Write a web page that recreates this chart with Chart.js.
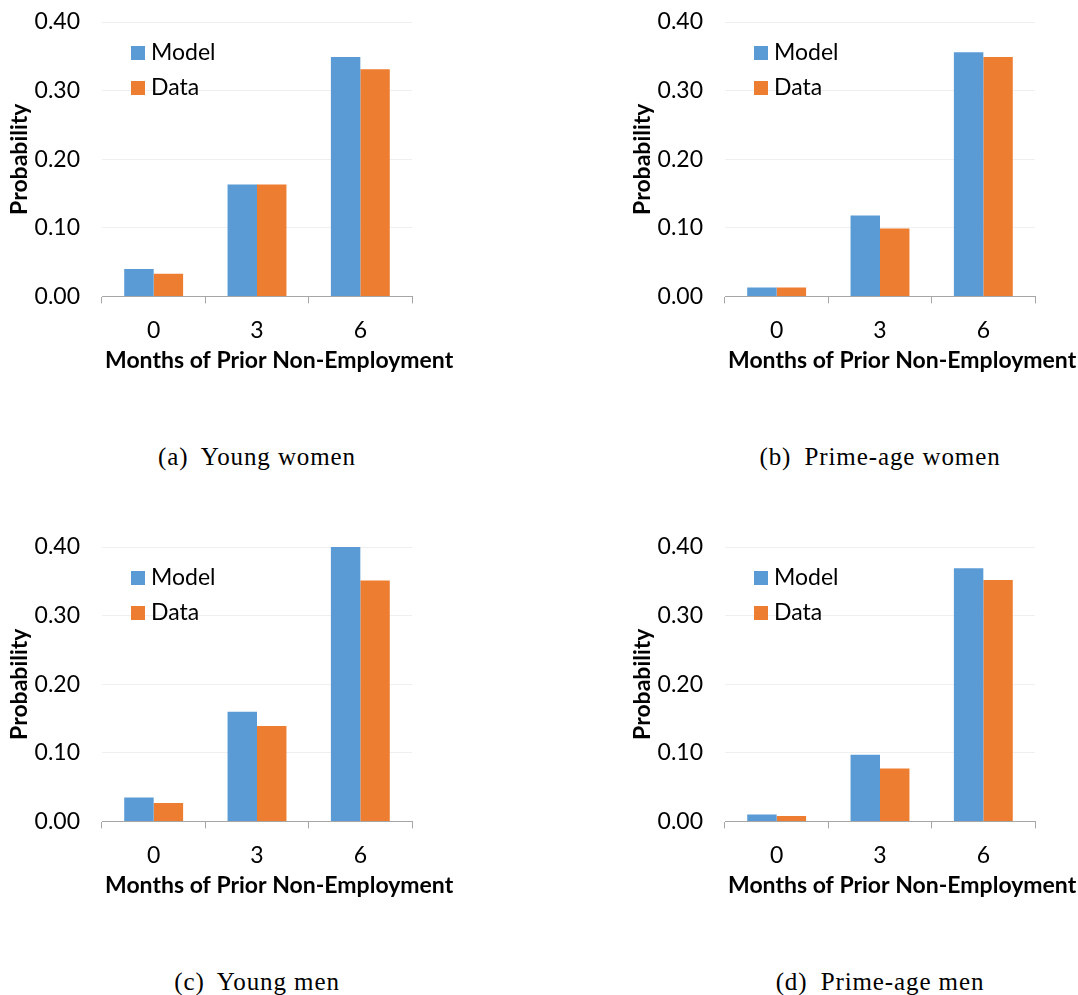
<!DOCTYPE html>
<html>
<head>
<meta charset="utf-8">
<script src="https://cdn.jsdelivr.net/npm/chart.js@4"></script>
<style>
  body { margin: 0; background: #fff; width: 1078px; height: 995px; position: relative; overflow: hidden; }
  .panel { position: absolute; width: 470px; height: 376px; }
  .caption { position: absolute; font-family: "Liberation Serif", serif; font-size: 25px; letter-spacing: 0.9px; color: #000; text-align: center; width: 470px; }
  .caption .lab { margin-right: 6px; }
</style>
</head>
<body>
<div class="panel" style="left:0;top:0"><canvas id="c0" width="470" height="376"></canvas></div>
<div class="panel" style="left:623px;top:0"><canvas id="c1" width="470" height="376"></canvas></div>
<div class="panel" style="left:0;top:525px"><canvas id="c2" width="470" height="376"></canvas></div>
<div class="panel" style="left:623px;top:525px"><canvas id="c3" width="470" height="376"></canvas></div>
<div class="caption" id="cap0" style="left:22px;top:443px"></div>
<div class="caption" id="cap1" style="left:645px;top:443px"></div>
<div class="caption" id="cap2" style="left:22px;top:968px"></div>
<div class="caption" id="cap3" style="left:645px;top:968px"></div>
<script>
const categories = ['0', '3', '6'];
const seriesNames = ['Model', 'Data'];

const youngWomenModel = [0.040, 0.163, 0.349];
const youngWomenData  = [0.033, 0.163, 0.331];
const primeWomenModel = [0.013, 0.118, 0.356];
const primeWomenData  = [0.013, 0.099, 0.349];
const youngMenModel   = [0.035, 0.160, 0.400];
const youngMenData    = [0.027, 0.139, 0.351];
const primeMenModel   = [0.010, 0.097, 0.369];
const primeMenData    = [0.008, 0.077, 0.352];

const xTitle = 'Months of Prior Non-Employment';
const yTitle = 'Probability';
const captionLabels = ['(a)', '(b)', '(c)', '(d)'];
const captions = ['Young women', 'Prime-age women', 'Young men', 'Prime-age men'];

const blue = '#5B9BD5';
const orange = '#ED7D31';
const sans = 'Lato';

// legend drawn inside the plot area, stacked like the Excel one,
// plus the x title, which in the original runs past the right end of the axis
const extras = {
  id: 'extras',
  afterDraw(chart) {
    const ctx = chart.ctx;
    const area = chart.chartArea;
    ctx.save();
    ctx.font = '23px ' + sans;
    ctx.textBaseline = 'middle';
    ctx.textAlign = 'left';
    chart.data.datasets.forEach((ds, i) => {
      const x = area.left + 29;
      const y = area.top + 24 + i * 35;
      ctx.fillStyle = ds.backgroundColor;
      ctx.fillRect(x, y, 14, 14);
      ctx.fillStyle = '#000';
      ctx.fillText(ds.label, x + 20, y + 7);
    });
    ctx.font = 'bold 23px ' + sans;
    ctx.fillText(xTitle, area.left + 3, area.bottom + 64);
    ctx.restore();
  }
};

function makeChart(id, model, data) {
  new Chart(document.getElementById(id), {
    type: 'bar',
    data: {
      labels: categories,
      datasets: [
        { label: seriesNames[0], data: model, backgroundColor: blue },
        { label: seriesNames[1], data: data, backgroundColor: orange }
      ]
    },
    options: {
      responsive: false,
      animation: false,
      layout: { padding: { top: 22, left: 0, right: 58, bottom: 19 } },
      datasets: { bar: { categoryPercentage: 0.57, barPercentage: 1.0 } },
      plugins: { legend: { display: false }, tooltip: { enabled: false } },
      scales: {
        x: {
          grid: { offset: true, drawOnChartArea: false, color: '#a6a6a6', tickLength: 7 },
          border: { display: true, color: '#a6a6a6', width: 1 },
          ticks: { color: '#000', font: { family: sans, size: 23 }, padding: 13 }
        },
        y: {
          min: 0, max: 0.4,
          grid: { color: '#efefef', drawTicks: false },
          border: { display: false },
          ticks: { stepSize: 0.1, color: '#000', font: { family: sans, size: 23 }, padding: 22,
                   callback: v => v.toFixed(2) },
          title: {
            display: true, text: yTitle,
            color: '#000', font: { family: sans, size: 23, weight: 'bold' }, padding: { top: 6, bottom: 0 }
          },
          afterFit: s => { s.width = 102; s.paddingTop = 0; s.paddingBottom = 0; }
        }
      }
    },
    plugins: [extras]
  });
}

makeChart('c0', youngWomenModel, youngWomenData);
makeChart('c1', primeWomenModel, primeWomenData);
makeChart('c2', youngMenModel, youngMenData);
makeChart('c3', primeMenModel, primeMenData);

captions.forEach((t, i) => {
  const el = document.getElementById('cap' + i);
  const lab = document.createElement('span');
  lab.className = 'lab';
  lab.textContent = captionLabels[i];
  el.appendChild(lab);
  el.appendChild(document.createTextNode(' ' + t));
});
</script>
</body>
</html>
